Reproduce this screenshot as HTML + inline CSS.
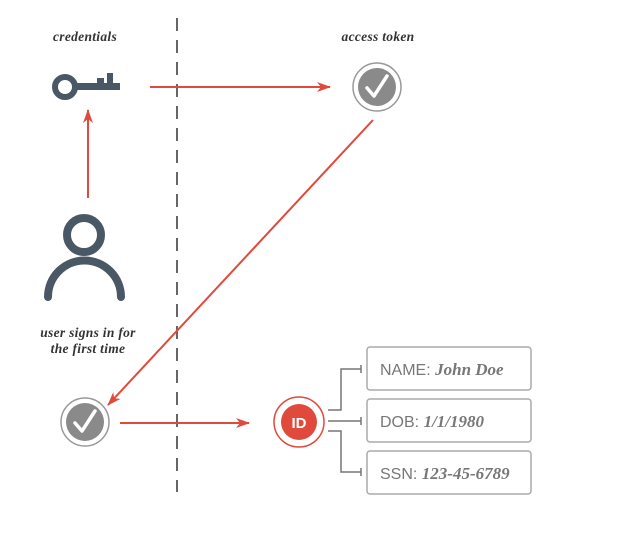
<!DOCTYPE html>
<html><head><style>
html,body{margin:0;padding:0;background:#fff;}
svg{display:block;}
.lab{font-family:"Liberation Serif",serif;font-style:italic;font-weight:bold;font-size:13.5px;fill:#333;letter-spacing:0.3px;}
.bt{font-family:"Liberation Sans",sans-serif;font-size:16px;fill:#777;}
.bi{font-family:"Liberation Serif",serif;font-style:italic;font-weight:bold;fill:#777;font-size:17px;}
</style></head><body>
<svg width="640" height="540" viewBox="0 0 640 540" xmlns="http://www.w3.org/2000/svg">
<defs>
<marker id="ah" markerWidth="14" markerHeight="10" refX="13" refY="5" orient="auto" markerUnits="userSpaceOnUse">
<path d="M0,0 L14,5 L0,10 L4,5 Z" fill="#e04a3c"/>
</marker>
</defs>
<rect width="640" height="540" fill="#fff"/>
<line x1="177" y1="18" x2="177" y2="492" stroke="#666" stroke-width="2" stroke-dasharray="13,9"/>
<text class="lab" x="85" y="41" text-anchor="middle">credentials</text>
<text class="lab" x="378" y="41" text-anchor="middle">access token</text>
<!-- key -->
<circle cx="65" cy="87" r="10" fill="none" stroke="#4a5866" stroke-width="6"/>
<rect x="74" y="83" width="46" height="7" fill="#4a5866"/>
<rect x="97" y="78" width="7" height="8" fill="#4a5866"/>
<rect x="107" y="73" width="6" height="12" fill="#4a5866"/>
<!-- arrows -->
<line x1="150" y1="87" x2="330" y2="87" stroke="#e04a3c" stroke-width="2" marker-end="url(#ah)"/>
<line x1="88" y1="198" x2="88" y2="110" stroke="#e04a3c" stroke-width="2" marker-end="url(#ah)"/>
<line x1="373" y1="120" x2="108" y2="405" stroke="#e04a3c" stroke-width="2" marker-end="url(#ah)"/>
<line x1="120" y1="423" x2="249" y2="423" stroke="#e04a3c" stroke-width="2" marker-end="url(#ah)"/>
<!-- check top -->
<circle cx="377" cy="87" r="24" fill="#fff" stroke="#999" stroke-width="1.5"/>
<circle cx="377" cy="87" r="19" fill="#8a8a8a"/>
<path d="M367,88 L374,96 L387,76" fill="none" stroke="#fff" stroke-width="3.5" stroke-linecap="round" stroke-linejoin="round"/>
<!-- person -->
<circle cx="84" cy="235" r="17" fill="none" stroke="#4a5866" stroke-width="8"/>
<path d="M48,297 A36,36 0 0 1 121,297" fill="none" stroke="#4a5866" stroke-width="8" stroke-linecap="round"/>
<text class="lab" x="88" y="337" text-anchor="middle">user signs in for</text>
<text class="lab" x="88" y="353" text-anchor="middle">the first time</text>
<!-- check bottom -->
<circle cx="85" cy="422" r="24" fill="#fff" stroke="#999" stroke-width="1.5"/>
<circle cx="85" cy="422" r="19" fill="#8a8a8a"/>
<path d="M75,423 L82,431 L95,411" fill="none" stroke="#fff" stroke-width="3.5" stroke-linecap="round" stroke-linejoin="round"/>
<!-- ID -->
<circle cx="299" cy="422" r="25" fill="#fff" stroke="#e04a3c" stroke-width="1.5"/>
<circle cx="299" cy="422" r="18" fill="#e04a3c"/>
<text x="299" y="428" text-anchor="middle" font-family="Liberation Sans,sans-serif" font-weight="bold" font-size="15" fill="#fff">ID</text>
<!-- connectors -->
<g fill="none" stroke="#777" stroke-width="1.5">
<path d="M328,410 H341 V369 H361"/>
<path d="M328,421 H361"/>
<path d="M328,431 H341 V472 H361"/>
<path d="M361,365 V373 M361,417 V425 M361,468 V476"/>
</g>
<g fill="#fff" stroke="#aaa" stroke-width="1.5">
<rect x="367" y="347" width="164" height="43" rx="3"/>
<rect x="367" y="399" width="164" height="43" rx="3"/>
<rect x="367" y="451" width="164" height="43" rx="3"/>
</g>
<text class="bt" x="380" y="375">NAME: <tspan class="bi">John Doe</tspan></text>
<text class="bt" x="380" y="427">DOB: <tspan class="bi">1/1/1980</tspan></text>
<text class="bt" x="380" y="479">SSN: <tspan class="bi">123-45-6789</tspan></text>
</svg>
</body></html>
